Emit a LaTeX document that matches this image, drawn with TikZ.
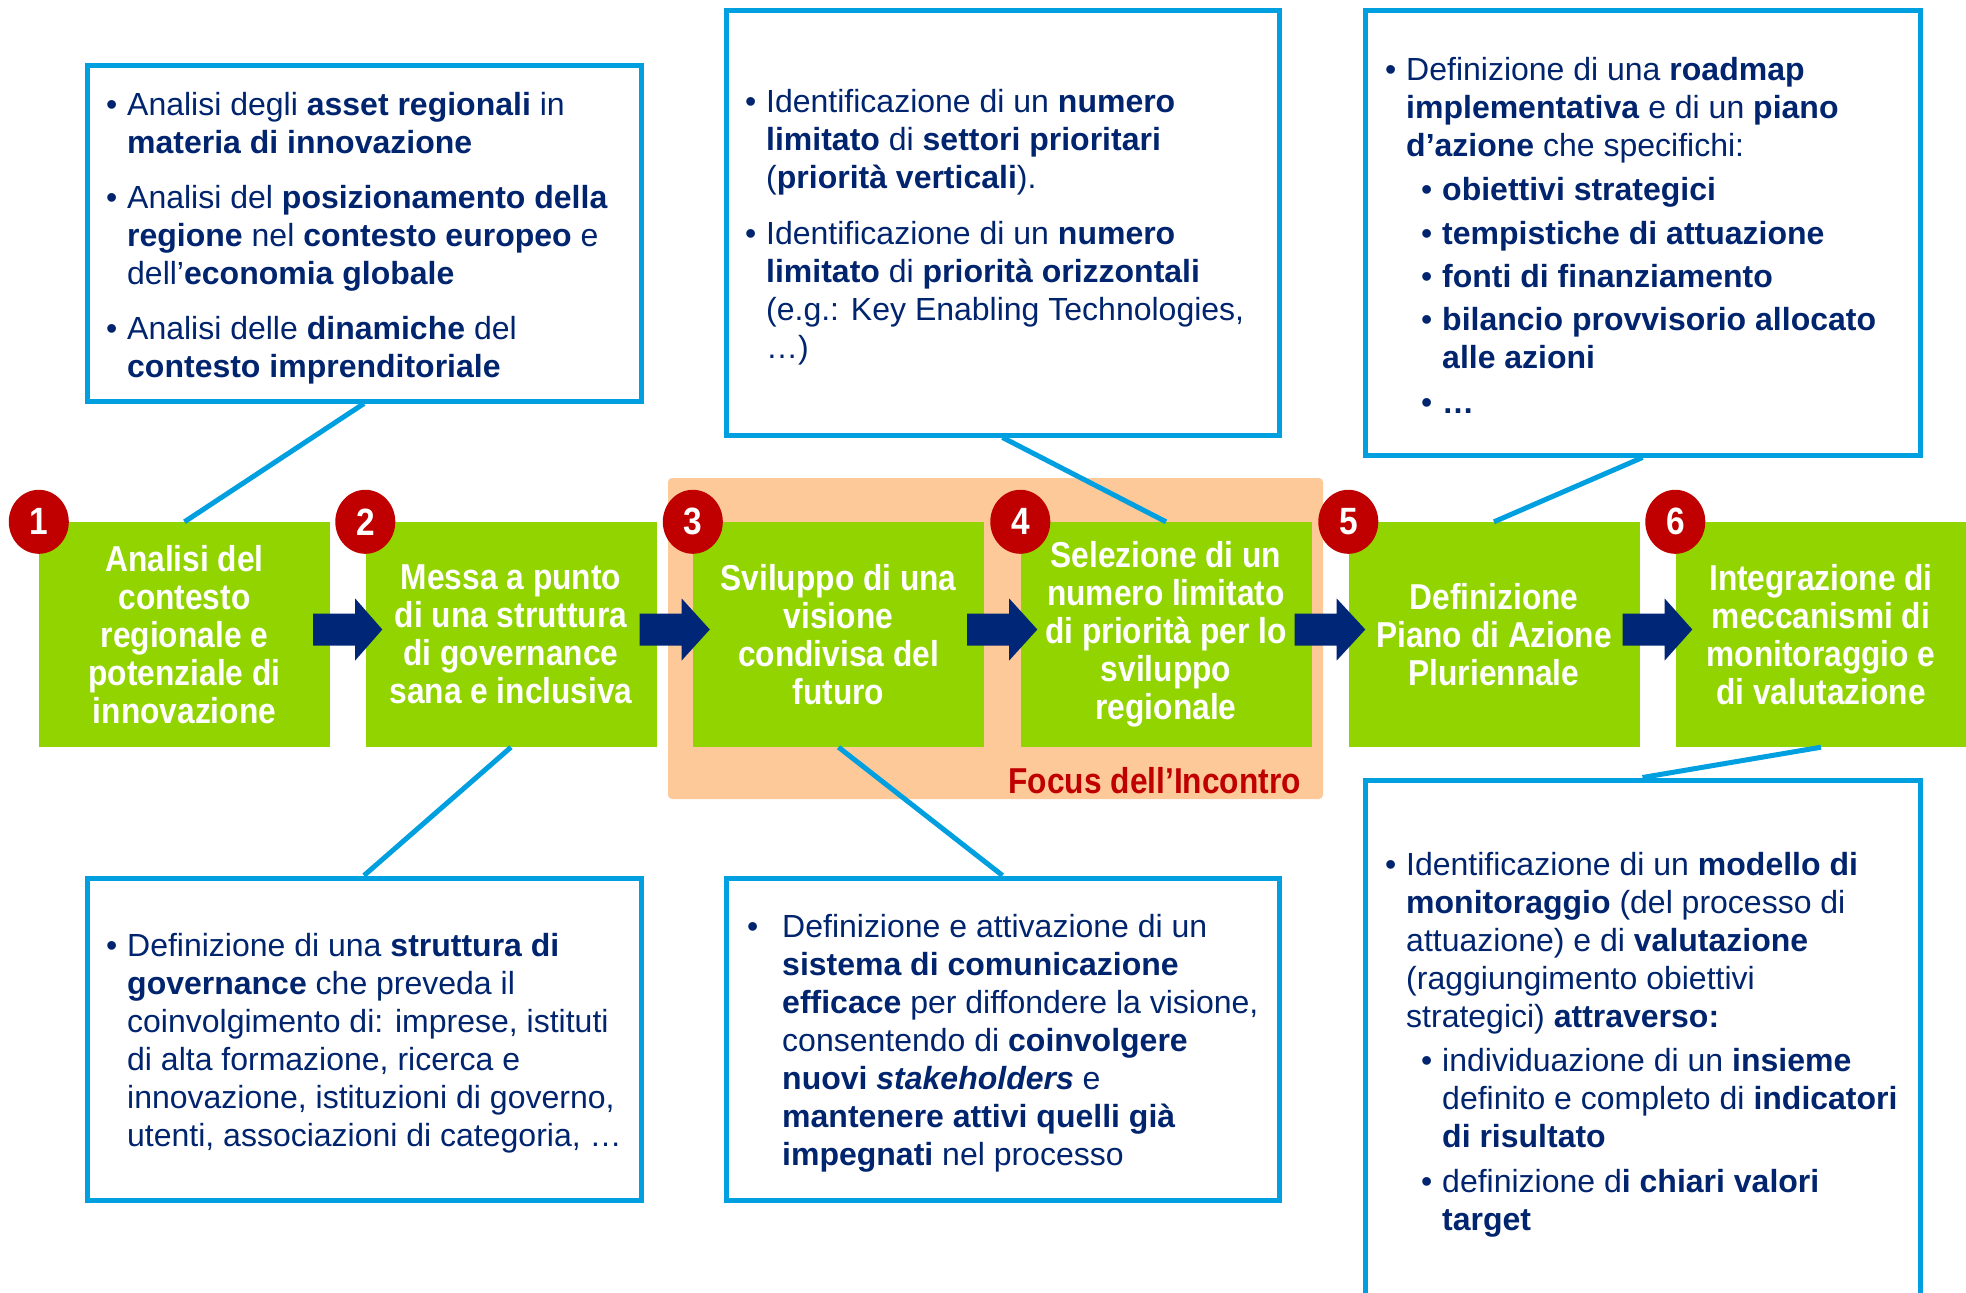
\documentclass[tikz,border=0pt]{standalone}
\usepackage{fontspec}
\setmainfont{Liberation Sans}
\newfontfamily\narrowf[FakeStretch=0.88]{Liberation Sans}
\usetikzlibrary{calc,shapes.geometric}
\definecolor{lime}{RGB}{146,212,0}
\definecolor{cred}{RGB}{192,0,0}
\definecolor{corange}{RGB}{253,201,153}
\definecolor{cblue}{RGB}{0,160,224}
\definecolor{cnavy}{RGB}{0,36,110}
\definecolor{flownavy}{RGB}{0,38,120}
\begin{document}
\begin{tikzpicture}[x=1pt,y=-1pt,
  stage/.style={fill=lime,minimum width=291pt,minimum height=225pt,inner sep=0pt,text=white,align=center,font=\narrowf\bfseries\fontsize{36}{38}\selectfont},
  num/.style={ellipse,fill=cred,minimum width=60pt,minimum height=64pt,inner sep=0pt,text=white,font=\narrowf\bfseries\fontsize{38}{40}\selectfont},
  callout/.style={draw=cblue,line width=5pt,fill=white,inner sep=0pt},
  link/.style={draw=cblue,line width=5pt},
  txt/.style={anchor=base west,inner sep=0pt,yshift=-3pt,align=left,text=cnavy,font=\fontsize{32}{38}\selectfont},
  dot/.style={anchor=base west,inner sep=0pt,yshift=-3pt,text=cnavy,font=\fontsize{32}{38}\selectfont},
  flow/.style={fill=flownavy}
]
\useasboundingbox (0,0) rectangle (1966,1293);
\clip (0,0) rectangle (1966,1293);

% focus area
\node[fill=corange,rounded corners=4pt,minimum width=655pt,minimum height=321pt,inner sep=0pt] (focus) at (995.5,638.5) {};
\node[anchor=base east,inner sep=0pt,text=cred,font=\narrowf\bfseries\fontsize{36}{38}\selectfont] (flabel) at (1301,793) {Focus dell’Incontro};

% callouts
\node[callout,minimum width=554pt,minimum height=336pt] (A) at (364,233) {};
\node[callout,minimum width=553pt,minimum height=425pt] (B) at (1002.5,222.5) {};
\node[callout,minimum width=555pt,minimum height=445pt] (C) at (1642.5,232.5) {};
\node[callout,minimum width=554pt,minimum height=322pt] (D) at (364,1039) {};
\node[callout,minimum width=553pt,minimum height=322pt] (E) at (1002.5,1039) {};
\node[callout,minimum width=555pt,minimum height=540pt] (F) at (1642.5,1050) {};

% stages
\node[stage] (b1) at (184.5,634.5) {Analisi del\\contesto\\regionale e\\potenziale di\\innovazione};
\node[stage] (b2) at (511,634.5) {Messa a punto\\di una struttura\\di governance\\sana e inclusiva};
\node[stage] (b3) at (838.5,634.5) {Sviluppo di una\\visione\\condivisa del\\futuro};
\node[stage] (b4) at (1166,634.5) {Selezione di un\\numero limitato\\di priorità per lo\\sviluppo\\regionale};
\node[stage] (b5) at (1494,634.5) {Definizione\\Piano di Azione\\Pluriennale};
\node[stage] (b6) at (1821,634.5) {Integrazione di\\meccanismi di\\monitoraggio e\\di valutazione};

% numbers
\node[num] (n1) at (b1.north west) {1};
\node[num] (n2) at (b2.north west) {2};
\node[num] (n3) at (b3.north west) {3};
\node[num] (n4) at (b4.north west) {4};
\node[num] (n5) at (b5.north west) {5};
\node[num] (n6) at (b6.north west) {6};

% flow arrows
\foreach \p/\q in {b1/b2,b2/b3,b3/b4,b4/b5,b5/b6}{
  \fill[flow] ($(\p.east)+(-17,-21)$) -- ($(\p.east)+(25,-21)$) -- ($(\p.east)+(25,-36)$)
    -- ($(\q.west)+(17,-5)$) -- ($(\p.east)+(25,26)$) -- ($(\p.east)+(25,11)$)
    -- ($(\p.east)+(-17,11)$) -- cycle;
}

% connectors
\draw[link] (A.south) -- (b1.north);
\draw[link] (B.south) -- (b4.north);
\draw[link] (C.south) -- (b5.north);
\draw[link] (b2.south) -- (D.north);
\draw[link] (b3.south) -- (E.north);
\draw[link] (b6.south) -- (F.north);

% text A (multi-line nodes are anchored at the baseline of their last line)
\node[dot] (a1d) at (106,112) {•};
\node[txt] (a1) at (127,150) {Analisi degli \textbf{asset regionali} in\\\textbf{materia di innovazione}};
\node[dot] (a2d) at (106,205) {•};
\node[txt] (a2) at (127,281) {Analisi del \textbf{posizionamento della}\\\textbf{regione} nel \textbf{contesto europeo} e\\dell’\textbf{economia globale}};
\node[dot] (a3d) at (106,336) {•};
\node[txt] (a3) at (127,374) {Analisi delle \textbf{dinamiche} del\\\textbf{contesto imprenditoriale}};

% text B
\node[dot] (b1d) at (745,109) {•};
\node[txt] (bt1) at (766,185) {Identificazione di un \textbf{numero}\\\textbf{limitato} di \textbf{settori prioritari}\\(\textbf{priorità verticali}).};
\node[dot] (b2d) at (745,241) {•};
\node[txt] (bt2) at (766,355) {Identificazione di un \textbf{numero}\\\textbf{limitato} di \textbf{priorità orizzontali}\\(e.g.: Key Enabling Technologies,\\…)};

% text C
\node[dot] (c1d) at (1385,77) {•};
\node[txt] (c1) at (1406,153) {Definizione di una \textbf{roadmap}\\\textbf{implementativa} e di un \textbf{piano}\\\textbf{d’azione} che specifichi:};
\node[dot] (c2d) at (1421,197) {•};
\node[txt] (c2) at (1442,197) {\textbf{obiettivi strategici}};
\node[dot] (c3d) at (1421,241) {•};
\node[txt] (c3) at (1442,241) {\textbf{tempistiche di attuazione}};
\node[dot] (c4d) at (1421,284) {•};
\node[txt] (c4) at (1442,284) {\textbf{fonti di finanziamento}};
\node[dot] (c5d) at (1421,327) {•};
\node[txt] (c5) at (1442,365) {\textbf{bilancio provvisorio allocato}\\\textbf{alle azioni}};
\node[dot] (c6d) at (1421,410) {•};
\node[txt] (c6) at (1442,410) {\textbf{…}};

% text D
\node[dot] (d1d) at (106,953) {•};
\node[txt] (d1) at (127,1143) {Definizione di una \textbf{struttura di}\\\textbf{governance} che preveda il\\coinvolgimento di: imprese, istituti\\di alta formazione, ricerca e\\innovazione, istituzioni di governo,\\utenti, associazioni di categoria, …};

% text E
\node[dot] (e1d) at (747,934) {•};
\node[txt] (e1) at (782,1162) {Definizione e attivazione di un\\\textbf{sistema di comunicazione}\\\textbf{efficace} per diffondere la visione,\\consentendo di \textbf{coinvolgere}\\\textbf{nuovi \textit{stakeholders}} e\\\textbf{mantenere attivi quelli già}\\\textbf{impegnati} nel processo};

% text F
\node[dot] (f1d) at (1385,872) {•};
\node[txt] (f1) at (1406,1024) {Identificazione di un \textbf{modello di}\\\textbf{monitoraggio} (del processo di\\attuazione) e di \textbf{valutazione}\\(raggiungimento obiettivi\\strategici) \textbf{attraverso:}};
\node[dot] (f2d) at (1421,1068) {•};
\node[txt] (f2) at (1442,1144) {individuazione di un \textbf{insieme}\\definito e completo di \textbf{indicatori}\\\textbf{di risultato}};
\node[dot] (f3d) at (1421,1189) {•};
\node[txt] (f3) at (1442,1227) {definizione d\textbf{i chiari valori}\\\textbf{target}};
\end{tikzpicture}
\end{document}
